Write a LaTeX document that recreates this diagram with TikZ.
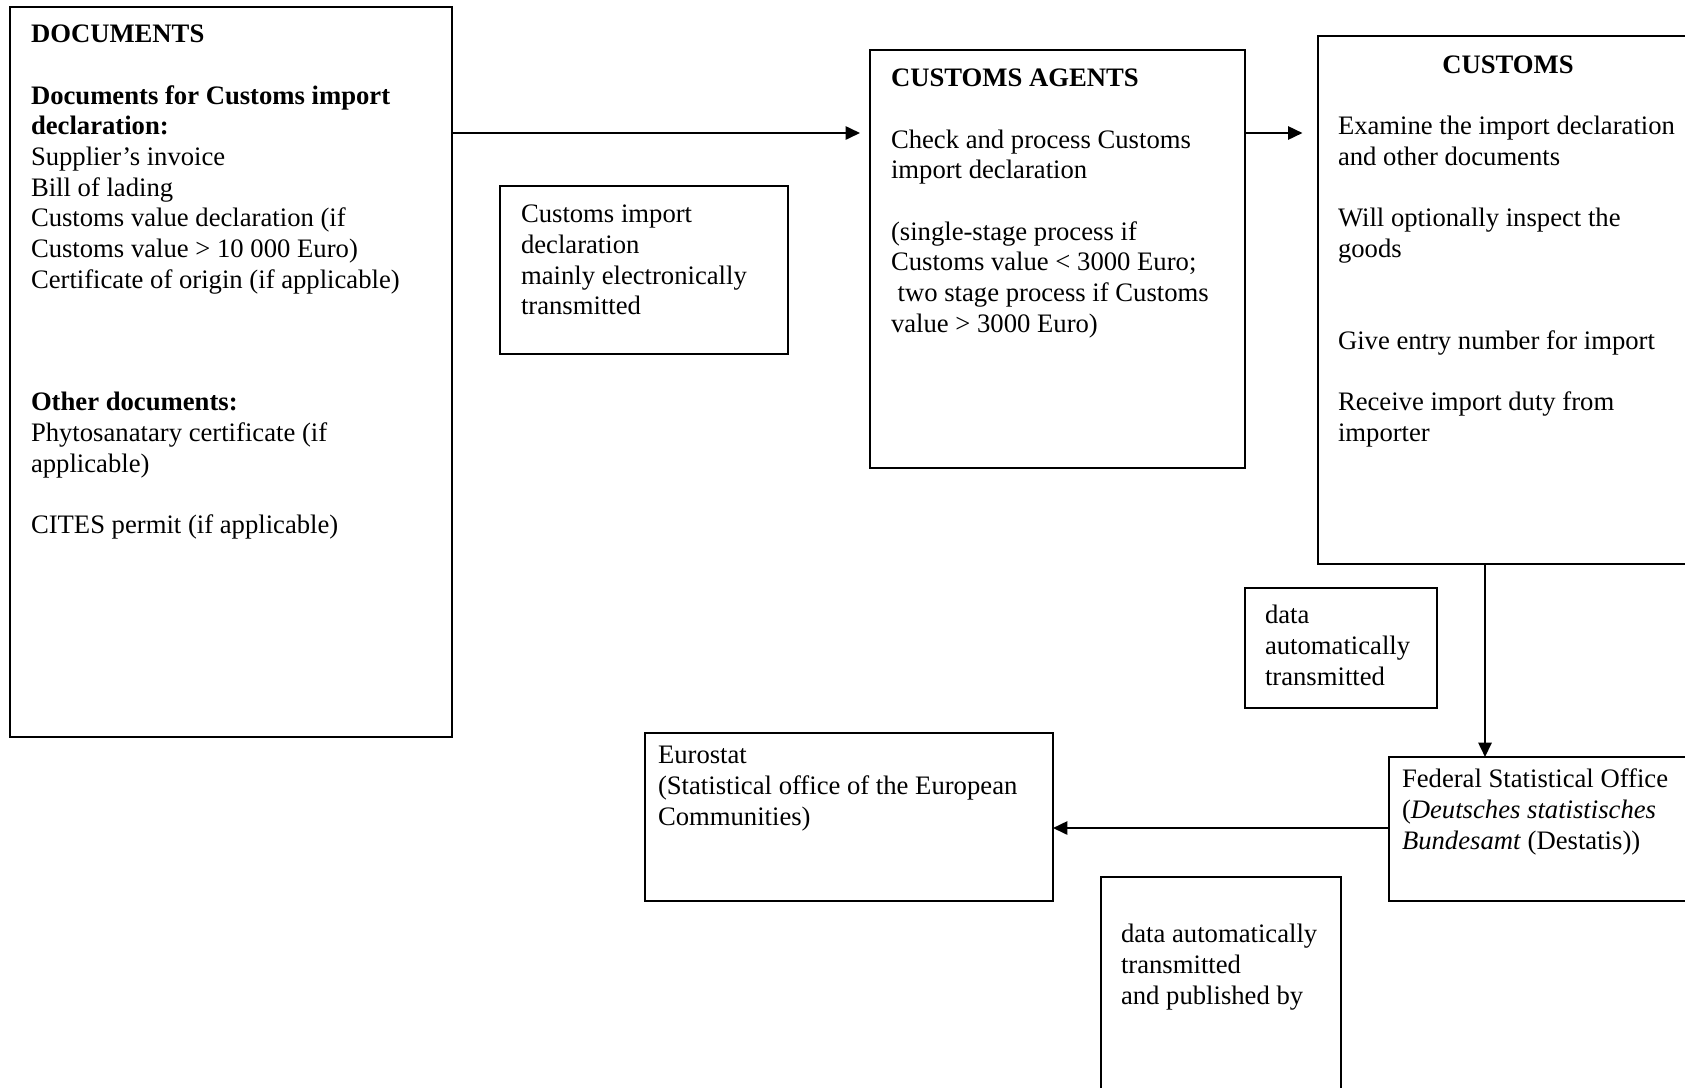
\documentclass[tikz,border=0pt]{standalone}
\usepackage{fontspec}
\setmainfont{Liberation Serif}
\usetikzlibrary{arrows.meta}
\newcommand{\reffont}{\fontsize{12}{13.8}\selectfont}
\newcommand{\natsp}{\spaceskip=0pt\xspaceskip=0pt\relax}
\begin{document}
\begin{tikzpicture}[x=0.45pt,y=-0.45pt,
  box/.style={draw, line width=0.9pt, rectangle, anchor=north west, inner sep=0pt, outer sep=0pt},
  txt/.style={anchor=north west, inner sep=0pt, outer sep=0pt, align=left, text width=200pt, font=\reffont},
  arr/.style={line width=0.9pt, -{Triangle[length=6.5pt,width=6pt]}}]
\useasboundingbox (0,0) rectangle (1685,1087);
\fill[white] (0,0) rectangle (1685,1087);
\clip (0,0) rectangle (1685,1087);

% boxes
\node[box, minimum width=199.1pt, minimum height=328.5pt] (doc) at (9.5,7) {};
\node[box, minimum width=129.6pt, minimum height=75.6pt] (cid) at (500,186) {};
\node[box, minimum width=168.75pt, minimum height=188.1pt] (agents) at (870,50) {};
\node[box, minimum width=176.4pt, minimum height=237.6pt] (customs) at (1318,36) {};
\node[box, minimum width=86.4pt, minimum height=54pt] (small) at (1245,588) {};
\node[box, minimum width=144.45pt, minimum height=64.8pt] (fso) at (1389,757) {};
\node[box, minimum width=183.6pt, minimum height=75.6pt] (euro) at (645,733) {};
\node[box, minimum width=108pt, minimum height=104.85pt] (pub) at (1101,877) {};

% texts
\node[txt] (doct) at (31,21.5) {\natsp\strut\textbf{DOCUMENTS}\\[13.8pt]
\textbf{Documents for Customs import}\\
\textbf{declaration:}\\
Supplier’s invoice\\
Bill of lading\\
Customs value declaration (if\\
Customs value > 10 000 Euro)\\
Certificate of origin (if applicable)\\[41.4pt]
\textbf{Other documents:}\\
Phytosanatary certificate (if\\
applicable)\\[13.8pt]
CITES permit (if applicable)};

\node[txt] (cidt) at (521,201.5) {\natsp\strut Customs import\\
declaration\\
mainly electronically\\
transmitted};

\node[txt] (agentst) at (891,65.5) {\natsp\strut\textbf{CUSTOMS AGENTS}\\[13.8pt]
Check and process Customs\\
import declaration\\[13.8pt]
(single-stage process if\\
Customs value < 3000 Euro;\\
\hspace*{3pt}two stage process if Customs\\
value > 3000 Euro)};

\node[anchor=base, inner sep=0pt, font=\reffont] (custh) at (1508,73) {\textbf{CUSTOMS}};
\node[txt] (custt) at (1338,112.9) {\natsp\strut Examine the import declaration\\
and other documents\\[13.8pt]
Will optionally inspect the\\
goods\\[27.6pt]
Give entry number for import\\[13.8pt]
Receive import duty from\\
importer};

\node[txt] (smallt) at (1265,602.5) {\natsp\strut data\\
automatically\\
transmitted};

\node[txt] (fsot) at (1402,766.5) {\natsp\strut Federal Statistical Office\\
(\textit{Deutsches statistisches}\\
\textit{Bundesamt} (Destatis))};

\node[txt] (eurot) at (658,742.5) {\natsp\strut Eurostat\\
(Statistical office of the European\\
Communities)};

\node[txt] (pubt) at (1121,921.5) {\natsp\strut data automatically\\
transmitted\\
and published by};

% connectors
\coordinate (ya) at (0,133);
\coordinate (vx) at (1485,0);
\coordinate (yb) at (0,828);
\draw[arr, shorten >=4.5pt] (doc.east |- ya) -- (agents.west |- ya);
\draw[arr, shorten >=7pt] (agents.east |- ya) -- (customs.west |- ya);
\draw[arr] (customs.south -| vx) -- (fso.north -| vx);
\draw[arr] (fso.west |- yb) -- (euro.east |- yb);
\end{tikzpicture}
\end{document}
